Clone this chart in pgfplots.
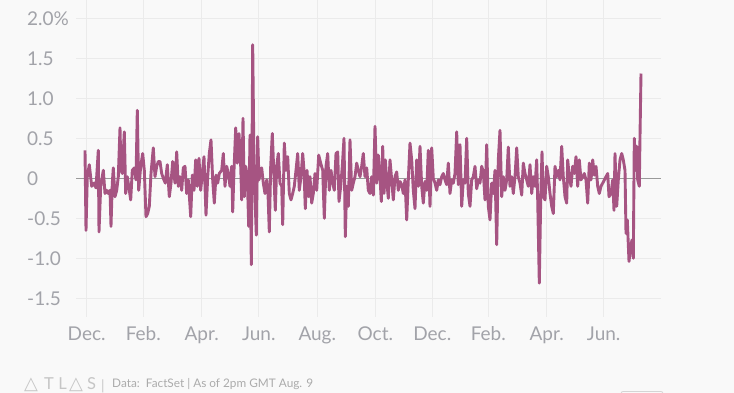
\documentclass[border=0pt]{standalone}
\usepackage{pgfplots}
\pgfplotsset{compat=1.18}
\usepackage{fontspec}
\setmainfont{Lato}
\newfontfamily\symfont{DejaVu Sans}
\definecolor{bgc}{HTML}{F9F9F9}
\definecolor{gridc}{HTML}{EBEBEB}
\definecolor{labc}{HTML}{A2A3A9}
\definecolor{zeroc}{HTML}{9A9A9A}
\definecolor{linec}{RGB}{166,84,130}
\definecolor{footc}{HTML}{ABABAB}
\definecolor{logoc}{HTML}{C6C6C6}
\begin{document}
\begin{tikzpicture}[x=1pt,y=1pt]
\fill[bgc] (0,0) rectangle (734,393);
\useasboundingbox (0,0) rectangle (734,393);
\begin{axis}[
  at={(76pt,76.3pt)}, anchor=south west,
  scale only axis, width=585pt, height=316.7pt,
  xmin=76, xmax=661, ymin=-1.730, ymax=2.229,
  axis line style={draw=none},
  major tick length=0pt,
  xtick={86.7,143.3,201.7,258.8,317.3,375.3,432.3,488.3,546.7,603.7},
  xticklabels={Dec.,Feb.,Apr.,Jun.,Aug.,Oct.,Dec.,Feb.,Apr.,Jun.},
  ytick={-1.5,-1,-0.5,0,0.5,1,1.5,2},
  yticklabels={-1.5,-1.0,-0.5,0,0.5,1.0,1.5,2.0\%},
  grid=major, grid style={color=gridc, line width=0.9pt},
  tick label style={font=\fontsize{19}{19}\selectfont, text=labc, inner sep=0pt},
  yticklabel style={anchor=west, xshift=-49pt},
  xticklabel style={anchor=base, yshift=-24.3pt},
  clip=false,
]
\addplot[zeroc, line width=1pt] coordinates {(76,0) (661,0)};
\addplot[linec, line width=2.9pt, line join=round] table {
x y
85.0 0.35
86.0 -0.65
87.3 0.02
89.3 0.17
91.7 -0.10
94.0 -0.06
96.0 -0.12
98.3 0.35
99.0 -0.67
100.7 -0.10
103.3 0.10
105.0 -0.19
106.7 -0.15
108.3 -0.19
110.0 -0.15
111.0 -0.60
112.3 -0.06
113.3 0.13
115.0 -0.23
116.7 -0.15
118.3 0.02
120.0 0.63
121.0 0.10
122.3 0.06
124.3 0.58
125.7 -0.19
127.3 0.02
129.3 -0.15
130.7 -0.27
132.3 0.10
134.3 0.13
136.0 -0.02
137.3 0.85
138.7 -0.15
140.7 0.15
142.7 0.31
144.3 0.10
146.0 -0.48
147.7 -0.44
149.3 -0.35
151.0 0.06
153.3 0.38
155.0 0.02
156.7 0.15
158.3 0.21
160.0 0.21
161.7 0.06
163.3 0.0
165.3 -0.06
167.3 0.17
169.3 -0.23
171.0 -0.06
172.7 0.21
175.0 -0.06
176.7 0.33
178.3 -0.10
180.0 0.02
181.7 -0.15
183.3 0.13
185.0 0.15
186.7 -0.19
188.3 -0.02
190.7 -0.48
192.3 0.04
194.0 -0.15
195.7 0.23
197.3 -0.10
199.0 0.25
200.7 -0.15
202.3 0.06
204.0 0.27
206.0 -0.46
207.7 0.02
209.3 0.31
211.0 0.48
212.7 -0.02
214.3 -0.31
216.0 0.04
217.7 -0.06
219.3 0.06
221.7 0.10
223.3 0.31
225.0 -0.10
226.7 0.15
228.3 0.06
230.0 -0.10
231.7 0.15
232.7 -0.42
234.0 0.10
235.7 0.63
237.3 0.19
239.0 0.56
240.7 0.15
241.7 -0.27
243.0 0.75
244.3 -0.23
245.7 0.15
247.3 0.02
248.7 -0.60
250.0 0.54
251.3 -1.08
252.7 1.67
254.0 0.19
255.0 -0.23
256.3 -0.71
257.7 0.52
259.0 -0.02
260.3 0.10
261.7 0.13
263.3 -0.06
265.0 -0.19
266.7 -0.02
268.0 -0.19
269.3 -0.67
270.7 0.15
272.3 0.56
274.0 0.02
275.3 -0.40
276.7 0.15
278.3 0.31
280.0 -0.06
281.7 -0.10
282.7 -0.58
284.3 0.44
286.0 0.10
287.7 0.27
289.3 -0.19
291.0 -0.27
292.7 -0.19
294.3 -0.10
296.0 0.10
297.7 0.31
299.3 -0.15
301.0 0.02
302.7 0.31
304.0 0.10
305.3 -0.38
307.0 0.10
308.7 -0.23
310.0 0.02
311.7 -0.31
313.3 -0.19
315.0 0.06
316.7 -0.15
318.7 0.29
320.7 0.19
322.7 0.10
324.3 -0.50
326.0 0.15
327.7 0.31
329.3 -0.15
331.0 0.10
332.7 -0.06
334.3 -0.15
336.0 0.31
337.7 0.33
339.0 -0.29
340.7 -0.10
342.3 0.15
344.0 0.50
345.3 -0.73
346.7 -0.10
348.3 -0.35
350.0 0.48
351.7 -0.15
353.3 -0.06
355.0 0.02
356.7 0.19
358.3 0.10
360.0 0.02
361.7 0.15
363.3 0.31
365.0 0.02
366.7 0.13
368.3 -0.15
370.0 -0.19
371.7 0.02
373.3 -0.21
375.0 0.65
376.7 -0.06
378.3 0.29
380.0 0.02
381.3 -0.29
382.7 0.40
384.0 -0.19
385.3 0.23
386.7 -0.02
388.3 -0.25
390.0 0.23
391.7 -0.02
393.3 -0.27
395.0 0.02
396.7 0.08
398.3 -0.15
400.0 -0.04
401.7 -0.08
403.3 -0.19
405.0 -0.02
406.7 -0.52
408.3 -0.02
410.0 0.44
411.7 0.23
413.3 -0.15
415.0 -0.38
416.7 0.23
418.3 -0.10
420.0 0.40
421.7 -0.10
423.3 -0.31
425.0 -0.04
426.7 -0.15
428.3 0.35
430.0 -0.35
431.7 0.38
433.3 0.0
435.0 -0.06
436.7 -0.15
438.3 -0.02
440.0 -0.08
441.7 0.02
443.3 0.06
445.0 -0.02
446.7 -0.08
448.3 0.19
450.0 -0.19
451.7 -0.02
453.3 -0.06
455.0 0.06
456.7 0.58
458.3 -0.08
460.0 0.42
461.7 -0.35
463.3 -0.02
465.0 -0.06
466.7 0.50
468.3 -0.19
470.0 -0.35
471.7 -0.02
473.3 0.02
475.0 0.15
476.7 -0.13
478.3 -0.02
480.0 -0.06
481.7 0.15
483.3 0.08
485.0 -0.27
486.7 0.42
488.3 -0.35
490.0 -0.52
491.7 -0.06
493.3 -0.19
495.0 0.10
496.7 -0.83
498.3 0.23
500.0 0.60
501.7 -0.23
503.3 0.02
505.0 -0.15
506.7 -0.02
508.3 0.39
510.0 -0.10
511.7 0.02
513.3 -0.19
515.0 0.02
516.7 0.38
518.3 0.02
520.0 -0.06
521.7 -0.21
523.3 0.19
525.0 0.06
526.7 -0.02
528.3 -0.10
530.0 0.17
531.7 -0.19
533.3 0.02
535.0 -0.10
536.7 0.23
537.7 -0.27
539.3 -1.31
540.7 -0.27
542.0 0.33
543.3 -0.23
545.0 -0.27
546.7 0.15
548.3 0.02
550.0 -0.19
551.7 -0.35
553.3 -0.44
555.0 0.15
556.7 0.02
558.3 0.10
560.0 -0.02
561.7 0.40
563.3 0.02
565.0 -0.23
566.7 -0.31
567.7 0.23
569.3 0.02
571.0 -0.10
572.7 0.15
574.3 0.06
576.0 0.27
577.7 -0.10
579.3 0.23
581.0 -0.02
582.7 0.02
584.3 0.06
586.0 -0.02
587.7 -0.31
589.3 0.19
591.0 -0.02
592.7 0.23
594.3 0.04
596.0 0.15
597.7 -0.10
599.3 -0.19
601.0 -0.10
602.7 -0.06
604.3 -0.02
606.0 0.02
607.7 0.06
609.0 -0.23
611.0 -0.19
612.7 -0.02
614.0 -0.40
615.0 0.31
616.7 -0.35
618.3 -0.02
620.0 0.23
621.7 0.31
623.3 0.23
625.0 0.10
626.0 -0.69
627.3 -0.52
629.0 -1.04
630.7 -0.85
632.0 -0.77
633.3 -1.00
634.3 0.50
635.7 0.10
636.7 0.40
637.7 -0.02
639.3 -0.10
640.0 0.52
641.0 1.31
};
\end{axis}
% footer
\begin{scope}[logoc]
\node[anchor=base, inner sep=0pt, font=\symfont\fontsize{18}{18}\selectfont] at (31,3) {△};
\node[anchor=base, inner sep=0pt, font=\fontsize{16.5}{16.5}\selectfont] at (49,3) {T};
\node[anchor=base, inner sep=0pt, font=\fontsize{16.5}{16.5}\selectfont] at (62.5,3) {L};
\node[anchor=base, inner sep=0pt, font=\symfont\fontsize{18}{18}\selectfont] at (76,3) {△};
\node[anchor=base, inner sep=0pt, font=\fontsize{16.5}{16.5}\selectfont] at (91.5,3) {S};
\node[anchor=base, inner sep=0pt, font=\fontsize{14}{14}\selectfont] at (103,2.5) {|};
\end{scope}
\node[anchor=base west, inner sep=0pt, text=footc, font=\fontsize{11.8}{11.8}\selectfont] at (112,5.5) {Data:\ \ FactSet | As of 2pm GMT Aug. 9};
\draw[gridc!80!gray, line width=0.8pt, rounded corners=2pt] (621,-5) -- (621,1.5) -- (663,1.5) -- (663,-5);
\end{tikzpicture}
\end{document}
